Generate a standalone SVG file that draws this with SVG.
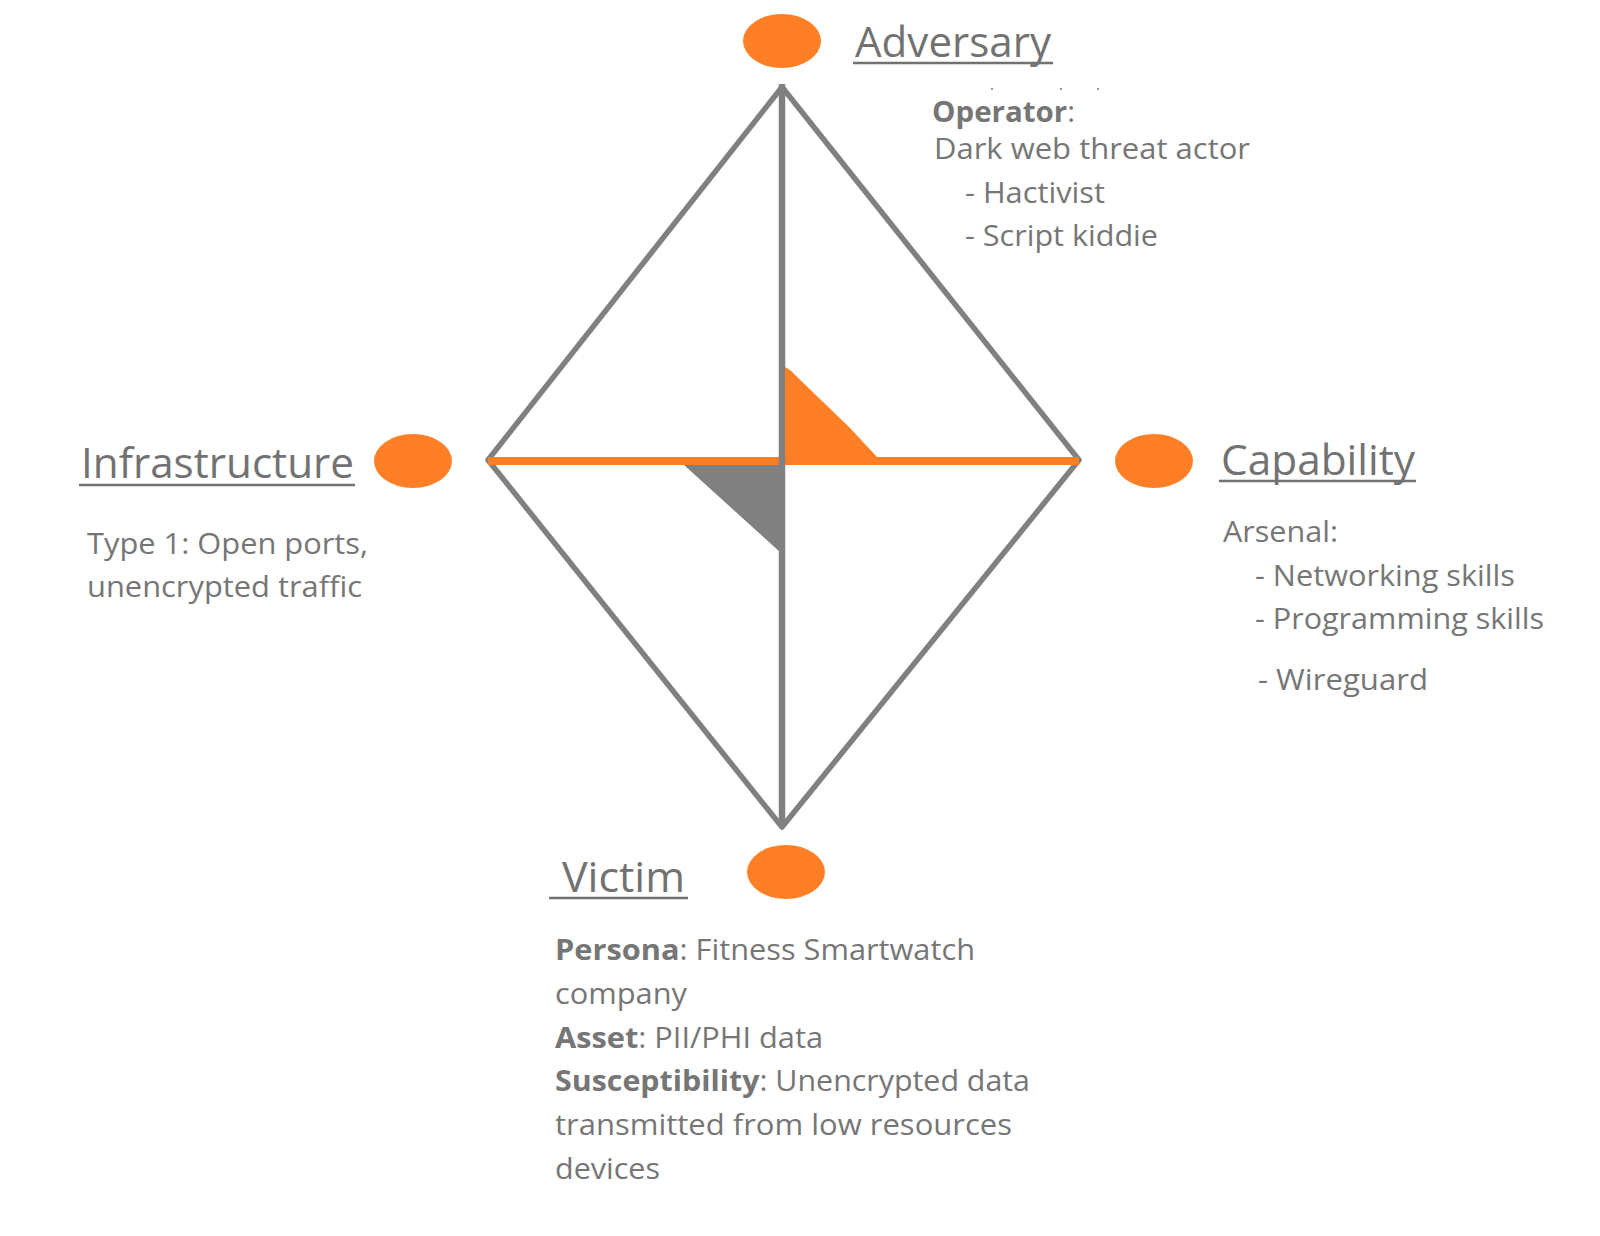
<svg xmlns="http://www.w3.org/2000/svg" width="1600" height="1236" viewBox="0 0 1600 1236">
  <style>
    .dot { fill: #FF7F27; }
    .head { font-family: "Open Sans", "Liberation Sans", sans-serif; font-size: 42px; fill: #727272; }
    .body { font-family: "Open Sans", "Liberation Sans", sans-serif; font-size: 29px; fill: #767676; }
    .b { font-weight: bold; }
    .ul { stroke: #727272; stroke-width: 2.5; }
    .edge { stroke: #808080; stroke-width: 5.5; fill: none; stroke-linejoin: round; stroke-linecap: round; }
    .axis-v { stroke: #808080; stroke-width: 6.5; }
    .axis-h { stroke: #FF7F27; stroke-width: 8; }
  </style>

  <rect width="1600" height="1236" fill="#ffffff"/>

  <!-- Diamond edges, axes and centre markers -->
  <g id="connectors">
    <polygon class="edge" points="782,87 1079,460 782,827 488,460"/>
    <line class="axis-h" x1="488" y1="461" x2="1079" y2="461"/>
    <line class="axis-v" x1="782" y1="84" x2="782" y2="827"/>
    <polygon fill="#FF7F27" points="785,367 790,370 820,399 850,428 877,457 785,457"/>
    <polygon fill="#808080" points="684,465 785,465 785,556 781,553"/>
  </g>

  <g id="adversary">
    <ellipse class="dot" cx="782" cy="41" rx="39" ry="27"/>
    <text class="head" x="855" y="57" textLength="196" lengthAdjust="spacingAndGlyphs">Adversary</text>
    <line class="ul" x1="853" y1="63" x2="1053" y2="63"/>
    <g fill="#9a9a9a">
      <rect x="991" y="88" width="2" height="2"/>
      <rect x="1060" y="88" width="2" height="2"/>
      <rect x="1097" y="88" width="2" height="2"/>
    </g>
    <text class="body" x="932" y="122" textLength="143" lengthAdjust="spacingAndGlyphs"><tspan class="b">Operator</tspan>:</text>
    <text class="body" x="934" y="159" textLength="316" lengthAdjust="spacingAndGlyphs">Dark web threat actor</text>
    <text class="body" x="965" y="203" textLength="140" lengthAdjust="spacingAndGlyphs">- Hactivist</text>
    <text class="body" x="965" y="246" textLength="193" lengthAdjust="spacingAndGlyphs">- Script kiddie</text>
  </g>

  <g id="infrastructure">
    <ellipse class="dot" cx="413" cy="461" rx="39" ry="27"/>
    <text class="head" x="81" y="478" textLength="273" lengthAdjust="spacingAndGlyphs">Infrastructure</text>
    <line class="ul" x1="79" y1="485" x2="355" y2="485"/>
    <text class="body" x="87" y="554" textLength="281" lengthAdjust="spacingAndGlyphs">Type 1: Open ports,</text>
    <text class="body" x="87" y="597" textLength="275" lengthAdjust="spacingAndGlyphs">unencrypted traffic</text>
  </g>

  <g id="capability">
    <ellipse class="dot" cx="1154" cy="461" rx="39" ry="27"/>
    <text class="head" x="1221" y="475" textLength="194" lengthAdjust="spacingAndGlyphs">Capability</text>
    <line class="ul" x1="1219" y1="481" x2="1416" y2="481"/>
    <text class="body" x="1223" y="542" textLength="115" lengthAdjust="spacingAndGlyphs">Arsenal:</text>
    <text class="body" x="1255" y="586" textLength="260" lengthAdjust="spacingAndGlyphs">- Networking skills</text>
    <text class="body" x="1255" y="629" textLength="289" lengthAdjust="spacingAndGlyphs">- Programming skills</text>
    <text class="body" x="1258" y="690" textLength="170" lengthAdjust="spacingAndGlyphs">- Wireguard</text>
  </g>

  <g id="victim">
    <ellipse class="dot" cx="786" cy="872" rx="39" ry="27"/>
    <text class="head" x="562" y="892" textLength="123" lengthAdjust="spacingAndGlyphs">Victim</text>
    <line class="ul" x1="549" y1="898" x2="688" y2="898"/>
    <text class="body" x="555" y="960" textLength="420" lengthAdjust="spacingAndGlyphs"><tspan class="b">Persona</tspan>: Fitness Smartwatch</text>
    <text class="body" x="555" y="1004" textLength="132" lengthAdjust="spacingAndGlyphs">company</text>
    <text class="body" x="555" y="1048" textLength="268" lengthAdjust="spacingAndGlyphs"><tspan class="b">Asset</tspan>: PII/PHI data</text>
    <text class="body" x="555" y="1091" textLength="475" lengthAdjust="spacingAndGlyphs"><tspan class="b">Susceptibility</tspan>: Unencrypted data</text>
    <text class="body" x="555" y="1135" textLength="457" lengthAdjust="spacingAndGlyphs">transmitted from low resources</text>
    <text class="body" x="555" y="1179" textLength="105" lengthAdjust="spacingAndGlyphs">devices</text>
  </g>
</svg>
